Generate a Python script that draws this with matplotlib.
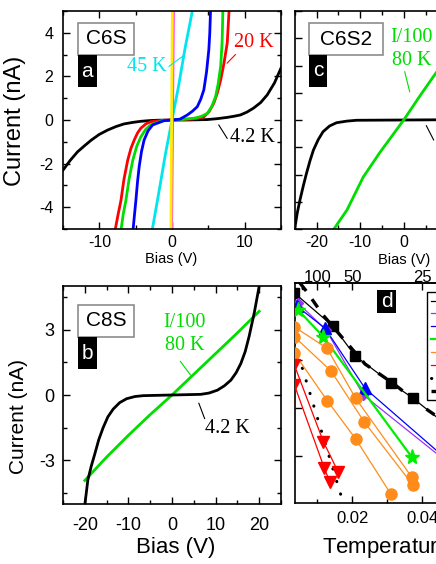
import numpy as np
import matplotlib
matplotlib.use('Agg')
import matplotlib.pyplot as plt
from matplotlib.patches import Rectangle
from matplotlib.lines import Line2D
from matplotlib.ticker import MultipleLocator, FixedLocator, NullFormatter, FormatStrFormatter

plt.rcParams['font.family'] = ['Liberation Sans', 'DejaVu Sans']
plt.rcParams['axes.unicode_minus'] = False
SERIF = ['Liberation Serif', 'DejaVu Serif']

W, H = 436, 564

# ---- panel a: C6S, I-V curves at several temperatures (nA vs V) ----
a_k4_x = [-15, -14, -13, -12, -11.1, -10, -8.85, -7.7, -6.6, -5.4, -4.3, -3, -2, 0,
          2, 3.5, 4.85, 6.2, 7.6, 8.5, 9.4, 10.3, 11.2, 12.2, 13.1, 14.1, 15]
a_k4_y = [-2.3, -1.85, -1.46, -1.17, -0.92, -0.66, -0.46, -0.3, -0.18, -0.11, -0.06, -0.025, -0.01, 0,
          0.0, 0.01, 0.02, 0.06, 0.12, 0.17, 0.23, 0.36, 0.54, 0.8, 1.15, 1.7, 2.38]
a_red_x = [-7.8, -7.4, -7.03, -6.6, -6.1, -5.65, -5.2, -4.75, -4.3, -3.6, -2.9, -1.4, 0,
           1.5, 3.0, 3.7, 4.4, 5.1, 5.75, 6.25, 6.7, 7.15, 7.6, 7.85]
a_red_y = [-5, -4.3, -3.7, -2.7, -1.85, -1.3, -0.92, -0.6, -0.38, -0.18, -0.08, -0.02, 0,
           0.02, 0.05, 0.08, 0.15, 0.38, 0.77, 1.25, 1.84, 2.6, 3.53, 5.0]
a_green_x = [-7.0, -6.7, -6.35, -5.9, -5.4, -4.85, -4.3, -3.6, -2.9, -1.5, 0,
             1.5, 3.0, 4.0, 4.85, 5.45, 6.0, 6.35, 6.7, 6.9, 7.0]
a_green_y = [-5, -4.3, -3.7, -2.7, -1.85, -1.2, -0.78, -0.42, -0.22, -0.05, 0,
             0.03, 0.08, 0.16, 0.3, 0.6, 1.07, 1.65, 2.46, 3.6, 5.0]
a_blue_x = [-5.35, -5.15, -4.97, -4.75, -4.52, -4.2, -3.84, -3.3, -2.68, -1.1, 0,
            1.1, 2.1, 2.8, 3.48, 3.95, 4.38, 4.75, 5.07, 5.2, 5.3]
a_blue_y = [-5, -4.3, -3.69, -2.85, -2.15, -1.45, -0.92, -0.5, -0.23, -0.03, 0,
            0.04, 0.23, 0.4, 0.61, 0.95, 1.38, 2.2, 3.23, 4.0, 5]
a_cyan_x = [-2.7, -1.8, -0.9, 0, 0.9, 1.8, 2.8]
a_cyan_y = [-5, -3.3, -1.55, 0, 1.55, 3.3, 5]
a_mag_x = [-0.05, 0.2]
a_mag_y = [-5, 5]
a_yel_x = [-0.15, 0.05]
a_yel_y = [-5, 5]

# ---- panel b: C8S ----
b_k4_x = [-20, -19.3, -18.5, -17.7, -16.8, -15.8, -14.7, -13.5, -12, -10.4, -8.5, -6.6, 0,
          6.6, 8.5, 10.4, 12, 13.5, 14.7, 15.8, 16.8, 17.7, 18.9, 20.05]
b_k4_y = [-5.05, -3.9, -3.25, -2.7, -2.05, -1.5, -1.0, -0.65, -0.35, -0.17, -0.07, -0.03, 0,
          0.03, 0.09, 0.22, 0.42, 0.68, 1.02, 1.45, 2.0, 2.7, 3.8, 5.05]
b_80k_x = [-20, -15, -10, -5, 0, 5, 10, 15, 20]
b_80k_y = [-3.92, -2.85, -1.85, -0.9, 0, 0.95, 1.9, 2.85, 3.84]

# ---- panel c: C6S2 ----
c_k4_x = [-25, -24.4, -23.8, -23, -22.3, -21.5, -20.7, -19.6, -18.5, -17, -15.4, -13, -10.8, 0,
          10.8, 13, 15.4, 17, 18.5, 19.6, 20.7, 21.5, 22.3, 23, 23.8, 24.4, 25]
c_k4_y = [-4.0, -3.4, -2.94, -2.4, -1.96, -1.5, -1.1, -0.72, -0.43, -0.22, -0.1, -0.04, -0.01, 0,
          0.01, 0.04, 0.1, 0.22, 0.43, 0.72, 1.1, 1.5, 1.96, 2.4, 2.94, 3.4, 4.0]
c_80k_x = [-16, -13, -9.3, -5.5, 0, 4, 7.5, 12]
c_80k_y = [-4, -3.3, -2.1, -1.2, 0, 0.95, 1.75, 2.7]

# ---- panel d: current vs inverse temperature (1/K) ----
d_sq_x = [0.00345, 0.01457, 0.02077, 0.03106, 0.03726, 0.05]
d_sq_y = [6.2e-5, 2.5e-6, 1.5e-7, 1.1e-8, 2.6e-9, 8.5e-11]
d_pur_x = [0.00457, 0.01249, 0.02314, 0.0479]
d_pur_y = [2.3e-5, 1.8e-6, 3.5e-9, 4.5e-12]
d_blu_x = [0.00406, 0.0122, 0.02363, 0.0479]
d_blu_y = [1.8e-5, 2.1e-6, 6.6e-9, 5.5e-12]
d_grn_x = [0.00457, 0.01171, 0.0370]
d_grn_y = [1.2e-5, 9.3e-7, 8.9e-12]
d_or1_x = [0.00345, 0.01277, 0.02097, 0.0370]
d_or1_y = [2.4e-6, 3.1e-7, 2.5e-9, 1.3e-12]
d_or2_x = [0.00345, 0.01391, 0.02334, 0.03726]
d_or2_y = [9.3e-7, 3.5e-8, 2.7e-10, 6.2e-13]
d_or3_x = [0.00345, 0.01286, 0.02097, 0.0310]
d_or3_y = [1.9e-7, 2.0e-9, 5.1e-11, 2.6e-13]
d_red1_x = [0.00345, 0.01171, 0.0160]
d_red1_y = [6.1e-8, 4.0e-11, 2.1e-12]
d_red2_x = [0.00345, 0.0120, 0.01363]
d_red2_y = [9.2e-9, 3.1e-12, 8e-13]
d_fit1_x = [0.00354, 0.01697]
d_fit1_y = [5.1e-7, 1.8e-13]
d_fit2_x = [0.0035, 0.0075]
d_fit2_y = [2.5e-4, 5.0e-5]
d_dash_x = [0.00506, 0.00697, 0.01163, 0.01649, 0.02363, 0.03163, 0.03991, 0.04391]
d_dash_y = [1.6e-4, 7.1e-5, 7.5e-6, 1.1e-6, 6.8e-8, 1.07e-8, 1.2e-9, 4.7e-10]
d_top_T = [100, 50, 25]
d_legend = ['C6S2', 'C6S', 'C8S', 'C8S2', 'C10S', 'C12S', 'VRH fit', 'Arrhenius fit']

fig = plt.figure(figsize=(W / 100, H / 100), dpi=100)


def px_axes(left, top, width, height):
    return fig.add_axes([left / W, 1 - (top + height) / H, width / W, height / H])


def style(ax, size):
    ax.tick_params(which='both', direction='in', top=True, right=True, width=1, labelsize=size)
    ax.tick_params(which='major', length=5)
    ax.tick_params(which='minor', length=3)
    for s in ax.spines.values():
        s.set_linewidth(1.2)


def name_box(ax, x0, y0, w, h, text):
    ax.add_patch(Rectangle((x0, y0), w, h, transform=ax.transAxes, fc='white',
                           ec='#8c8c8c', lw=1.2, zorder=5))
    ax.text(x0 + w / 2, y0 + h / 2, text, transform=ax.transAxes, ha='center',
            va='center', fontsize=15, zorder=6)


def letter_box(ax, x0, y0, w, h, text):
    ax.add_patch(Rectangle((x0, y0), w, h, transform=ax.transAxes, fc='black',
                           ec='black', lw=0, zorder=5))
    ax.text(x0 + w / 2, y0 + h / 2, text, transform=ax.transAxes, ha='center',
            va='center', fontsize=15, color='white', zorder=6)


def leader(ax, x, y, color):
    ax.plot(x, y, color=color, lw=0.8, zorder=4)


lw = 2.0

# panel a
ax_a = px_axes(63, 11, 218, 218)
ax_a.plot(a_k4_x, a_k4_y, color='black', lw=lw)
ax_a.plot(a_red_x, a_red_y, color='#ff0000', lw=lw)
ax_a.plot(a_green_x, a_green_y, color='#00dd00', lw=lw)
ax_a.plot(a_blue_x, a_blue_y, color='#0000ff', lw=lw)
ax_a.plot(a_cyan_x, a_cyan_y, color='#00e5ee', lw=lw)
ax_a.plot(a_mag_x, a_mag_y, color='#ff33ff', lw=lw)
ax_a.plot(a_yel_x, a_yel_y, color='#ffee00', lw=lw)
ax_a.set_xlim(-15, 15)
ax_a.set_ylim(-5, 5)
ax_a.xaxis.set_major_locator(MultipleLocator(10))
ax_a.xaxis.set_minor_locator(MultipleLocator(5))
ax_a.yaxis.set_major_locator(MultipleLocator(2))
ax_a.yaxis.set_minor_locator(MultipleLocator(1))
style(ax_a, 11.5)
ax_a.tick_params(axis='x', pad=4)
ax_a.tick_params(axis='y', pad=7)
ax_a.text(-3.4, 2.44, '45 K', color='#00e5ee', fontsize=14.5, family=SERIF, ha='center', va='center')
leader(ax_a, [-0.41, 1.56], [2.46, 2.95], '#00e5ee')
ax_a.text(11.2, 3.55, '20 K', color='#ff0000', fontsize=14.5, family=SERIF, ha='center', va='center')
leader(ax_a, [7.59, 8.73], [2.61, 3.0], '#ff0000')
ax_a.text(11.05, -0.78, '4.2 K', color='black', fontsize=14.5, family=SERIF, ha='center', va='center')
leader(ax_a, [6.44, 7.59], [-0.23, -0.84], 'black')
name_box(ax_a, 0.067, 0.798, 0.26, 0.148, 'C6S')
letter_box(ax_a, 0.070, 0.650, 0.084, 0.148, 'a')

# panel c
ax_c = px_axes(294.7, 11, 218, 218)
ax_c.plot(c_k4_x, c_k4_y, color='black', lw=lw)
ax_c.plot(c_80k_x, c_80k_y, color='#00dd00', lw=lw)
ax_c.set_xlim(-25, 25)
ax_c.set_ylim(-4, 4)
ax_c.xaxis.set_major_locator(MultipleLocator(10))
ax_c.xaxis.set_minor_locator(MultipleLocator(5))
ax_c.yaxis.set_major_locator(MultipleLocator(1))
style(ax_c, 11.5)
ax_c.tick_params(axis='x', pad=4)
ax_c.tick_params(axis='y', labelleft=False)
ax_c.text(1.83, 2.6, 'I/100\n80 K', color='#00dd00', fontsize=14.5, family=SERIF,
          ha='center', va='center', linespacing=1.3)
leader(ax_c, [0.23, 1.37], [1.77, 1.04], '#00dd00')
leader(ax_c, [5.19, 6.86], [-0.21, -0.73], 'black')
ax_c.text(8.3, -0.95, '4.2 K', color='black', fontsize=14.5, family=SERIF, ha='left', va='center')
name_box(ax_c, 0.067, 0.798, 0.337, 0.145, 'C6S2')
letter_box(ax_c, 0.067, 0.653, 0.083, 0.145, 'c')

# panel b
ax_b = px_axes(63, 286, 218, 218)
ax_b.plot(b_80k_x, b_80k_y, color='#00dd00', lw=lw)
ax_b.plot(b_k4_x, b_k4_y, color='black', lw=lw)
ax_b.set_xlim(-25, 25)
ax_b.set_ylim(-5, 5)
ax_b.xaxis.set_major_locator(MultipleLocator(10))
ax_b.xaxis.set_minor_locator(MultipleLocator(5))
ax_b.yaxis.set_major_locator(MultipleLocator(3))
ax_b.yaxis.set_minor_locator(MultipleLocator(1.5))
style(ax_b, 13)
ax_b.tick_params(axis='x', pad=9)
ax_b.tick_params(axis='y', pad=6)
ax_b.text(2.96, 2.81, 'I/100\n80 K', color='#00dd00', fontsize=14.5, family=SERIF,
          ha='center', va='center', linespacing=1.3)
leader(ax_b, [1.92, 4.24], [1.54, 0.92], '#00dd00')
ax_b.text(12.8, -1.52, '4.2 K', color='black', fontsize=14.5, family=SERIF, ha='center', va='center')
leader(ax_b, [6.16, 7.48], [-0.38, -1.08], 'black')
name_box(ax_b, 0.067, 0.767, 0.26, 0.145, 'C8S')
letter_box(ax_b, 0.069, 0.618, 0.086, 0.149, 'b')

# panel d
ax_d = px_axes(294.7, 283, 218, 220)
ax_d.set_yscale('log')
ax_d.plot(d_dash_x, d_dash_y, color='black', lw=2.4, dashes=(3, 3), zorder=2)
ax_d.plot(d_fit1_x, d_fit1_y, color='black', lw=2.2, dashes=(0.1, 4.2), dash_capstyle='round', zorder=2)
ax_d.plot(d_fit2_x, d_fit2_y, color='black', lw=2.2, dashes=(0.1, 4.2), dash_capstyle='round', zorder=2)
mk = dict(lw=0.9, zorder=3)
ax_d.plot(d_sq_x, d_sq_y, color='black', marker='s', ms=7, **mk)
ax_d.plot(d_pur_x, d_pur_y, color='#9933ff', marker='D', ms=5, **mk)
ax_d.plot(d_blu_x, d_blu_y, color='#0000ff', marker='^', ms=8, **mk)
ax_d.plot(d_grn_x, d_grn_y, color='#00ee00', marker='*', ms=11, lw=1.6, zorder=3)
for ox, oy in [(d_or1_x, d_or1_y), (d_or2_x, d_or2_y), (d_or3_x, d_or3_y)]:
    ax_d.plot(ox, oy, color='#ff8c1a', marker='o', ms=8, **mk)
for rx, ry in [(d_red1_x, d_red1_y), (d_red2_x, d_red2_y)]:
    ax_d.plot(rx, ry, color='#ff0000', marker='v', ms=8, **mk)
ax_d.set_xlim(0.00354, 0.0658)
ax_d.set_ylim(10 ** -12.96, 10 ** -3.79)
ax_d.xaxis.set_major_locator(MultipleLocator(0.02))
ax_d.xaxis.set_minor_locator(MultipleLocator(0.01))
ax_d.xaxis.set_major_formatter(FormatStrFormatter('%.2f'))
ax_d.yaxis.set_major_formatter(NullFormatter())
ax_d.yaxis.set_minor_formatter(NullFormatter())
style(ax_d, 12)
ax_d.tick_params(which='both', top=False)
ax_d.tick_params(axis='x', pad=6)


def inv(x):
    x = np.asarray(x, dtype=float)
    with np.errstate(divide='ignore'):
        return 1.0 / x


top = ax_d.secondary_xaxis('top', functions=(inv, inv))
top.set_xticks(d_top_T)
top.set_xticklabels([str(t) for t in d_top_T])
top.xaxis.set_minor_locator(FixedLocator([75]))
top.tick_params(which='both', direction='in', labelsize=12, pad=-1.5, width=1)
top.tick_params(which='major', length=5)
top.tick_params(which='minor', length=3)
top.spines['top'].set_linewidth(1.2)

handles = [
    Line2D([], [], color='black', lw=0.9, marker='s', ms=5),
    Line2D([], [], color='#9933ff', lw=0.9, marker='D', ms=4),
    Line2D([], [], color='#0000ff', lw=0.9, marker='^', ms=5),
    Line2D([], [], color='#00ee00', lw=1.6, marker='*', ms=7),
    Line2D([], [], color='#ff8c1a', lw=0.9, marker='o', ms=5),
    Line2D([], [], color='#ff0000', lw=0.9, marker='v', ms=5),
    Line2D([], [], color='black', lw=2.2, dashes=(0.1, 4.2), dash_capstyle='round'),
    Line2D([], [], color='black', lw=2.4, dashes=(3, 3)),
]
leg = ax_d.legend(handles, d_legend, loc='upper left', bbox_to_anchor=(0.607, 0.959),
                  fontsize=7, fancybox=False, edgecolor='black', framealpha=1,
                  borderaxespad=0, labelspacing=0.3, handlelength=2.5, borderpad=0.4)
leg.get_frame().set_linewidth(1)
letter_box(ax_d, 0.3775, 0.864, 0.087, 0.105, 'd')

# axis labels
fig.text(15 / W, 1 - 121 / H, 'Current (nA)', rotation=90, ha='center', va='center', fontsize=17)
fig.text(18 / W, 1 - 416 / H, 'Current (nA)', rotation=90, ha='center', va='center', fontsize=15)
fig.text(171 / W, 1 - 259.5 / H, 'Bias (V)', ha='center', va='center', fontsize=10.5)
fig.text(403.7 / W, 1 - 260 / H, 'Bias (V)', ha='center', va='center', fontsize=10.5)
fig.text(176 / W, 1 - 548 / H, 'Bias (V)', ha='center', va='center', fontsize=16)
fig.text(321.7 / W, 1 - 547 / H, 'Temperature$^{-1}$ (K$^{-1}$)', ha='left', va='center', fontsize=16)

fig.savefig('out.png', dpi=100)
